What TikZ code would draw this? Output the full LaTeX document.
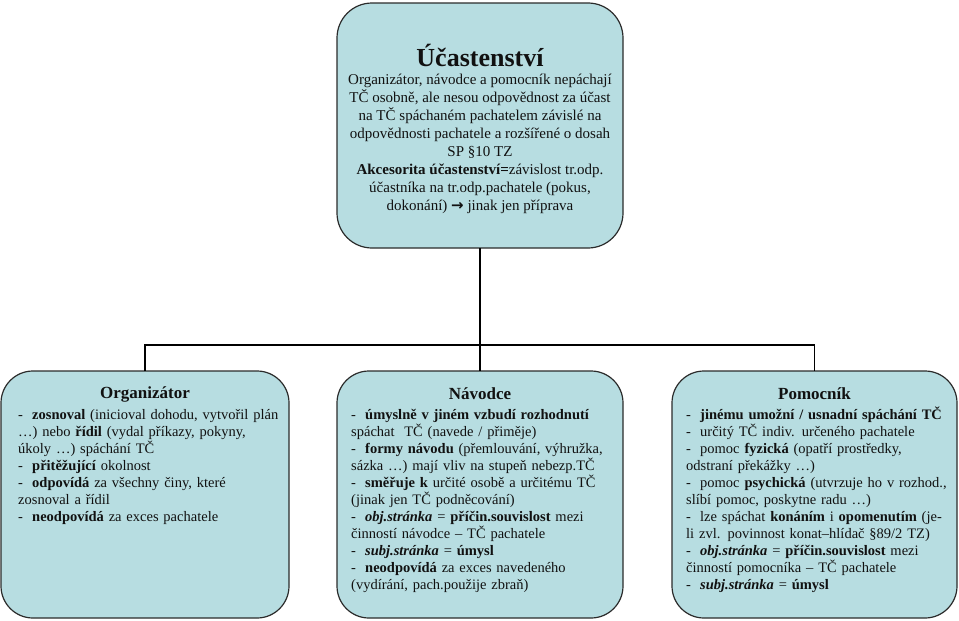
\documentclass[tikz,border=0pt]{standalone}
\usepackage{fontspec}
\setmainfont{Liberation Serif}
\newfontfamily\symfont{DejaVu Sans}
\definecolor{boxfill}{HTML}{B7DDE1}
\definecolor{boxdraw}{HTML}{2B2B2B}
\definecolor{txtcol}{HTML}{111111}
\newcommand{\itm}[1]{\par\noindent\hangindent=14pt\hangafter=1\makebox[14pt][l]{-}#1\par}
\tikzset{
  box/.style={draw=boxdraw, line width=1.2pt, fill=boxfill, rectangle, inner sep=0pt, outer sep=0pt},
  conn/.style={draw=black, line width=1.3pt},
  ttl/.style={inner sep=0pt, text=txtcol},
  body/.style={inner sep=0pt, text=txtcol, text width=300pt, align=left, anchor=north west,
    font=\fontsize{14.5}{17}\selectfont},
}
\begin{document}
\begin{tikzpicture}[x=1pt,y=-1pt]
\useasboundingbox (0,0) rectangle (959,621);
% boxes
\node[box, rounded corners=35pt, minimum width=286pt, minimum height=245pt] (top) at (480,125.5) {};
\node[box, rounded corners=32pt, minimum width=288pt, minimum height=247pt] (org) at (145,494.5) {};
\node[box, rounded corners=32pt, minimum width=286pt, minimum height=247pt] (nav) at (480,494.5) {};
\node[box, rounded corners=32pt, minimum width=285pt, minimum height=247pt] (pom) at (814.5,494.5) {};
% connectors
\coordinate (bus) at (480,345);
\draw[conn] (top.south) -- (nav.north);
\draw[conn] (org.north) |- (bus) -| (pom.north);
% top text
\node[ttl, font=\bfseries\fontsize{26}{30}\selectfont] (topt) at (480,55) {Účastenství};
\node[inner sep=0pt, text=txtcol, align=center, anchor=north, font=\fontsize{15}{18}\selectfont] (topb) at (480,73.5) {%
Organizátor, návodce a pomocník nepáchají\\
TČ osobně, ale nesou odpovědnost za účast\\
na TČ spáchaném pachatelem závislé na\\
odpovědnosti pachatele a rozšířené o dosah\\
SP §10 TZ\\
\textbf{Akcesorita účastenství=}závislost tr.odp.\\
účastníka na tr.odp.pachatele (pokus,\\
dokonání) {\symfont\bfseries\fontsize{15}{18}\selectfont →} jinak jen příprava};
% Organizator
\node[ttl, font=\bfseries\fontsize{17}{20}\selectfont] (orgt) at (145,394) {Organizátor};
\node[body] (orgb) at (18,402) {%
\itm{\textbf{zosnoval} (inicioval dohodu, vytvořil plán\\…) nebo \textbf{řídil} (vydal příkazy, pokyny,\\úkoly …) spáchání TČ}
\itm{\textbf{přitěžující} okolnost}
\itm{\textbf{odpovídá} za všechny činy, které\\zosnoval a řídil}
\itm{\textbf{neodpovídá} za exces pachatele}};
% Navodce
\node[ttl, font=\bfseries\fontsize{17}{20}\selectfont] (navt) at (480,394) {Návodce};
\node[body] (navb) at (351,402) {%
\itm{\textbf{úmyslně v jiném vzbudí rozhodnutí}\\spáchat\ \ TČ (navede / přiměje)}
\itm{\textbf{formy návodu} (přemlouvání, výhružka,\\sázka …) mají vliv na stupeň nebezp.TČ}
\itm{\textbf{směřuje k} určité osobě a určitému TČ\\(jinak jen TČ podněcování)}
\itm{\textbf{\textit{obj.stránka}} = \textbf{příčin.souvislost} mezi\\činností návodce – TČ pachatele}
\itm{\textbf{\textit{subj.stránka}} = \textbf{úmysl}}
\itm{\textbf{neodpovídá} za exces navedeného\\(vydírání, pach.použije zbraň)}};
% Pomocnik
\node[ttl, font=\bfseries\fontsize{17}{20}\selectfont] (pomt) at (814.5,394) {Pomocník};
\node[body] (pomb) at (686,402) {%
\itm{\textbf{jinému umožní / usnadní spáchání TČ}}
\itm{určitý TČ indiv. určeného pachatele}
\itm{pomoc \textbf{fyzická} (opatří prostředky,\\odstraní překážky …)}
\itm{pomoc \textbf{psychická} (utvrzuje ho v rozhod.,\\slíbí pomoc, poskytne radu …)}
\itm{lze spáchat \textbf{konáním} i \textbf{opomenutím} (je-\\li zvl. povinnost konat–hlídač §89/2 TZ)}
\itm{\textbf{\textit{obj.stránka}} = \textbf{příčin.souvislost} mezi\\činností pomocníka – TČ pachatele}
\itm{\textbf{\textit{subj.stránka}} = \textbf{úmysl}}};
\end{tikzpicture}
\end{document}
